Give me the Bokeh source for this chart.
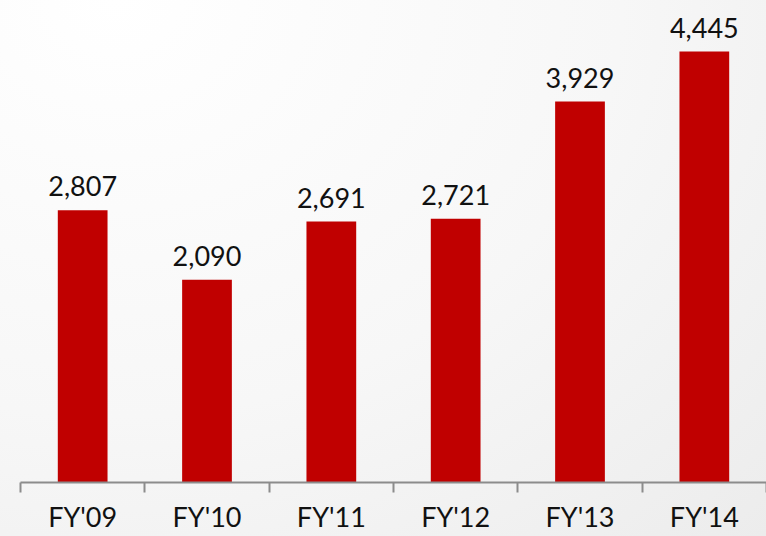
from bokeh.plotting import figure
from bokeh.models import ColumnDataSource, FixedTicker, Range1d, InlineStyleSheet, LabelSet
from bokeh.core.properties import value
from bokeh.embed import file_html
from bokeh.resources import INLINE

categories = ["FY'09", "FY'10", "FY'11", "FY'12", "FY'13", "FY'14"]
values = [2807, 2090, 2691, 2721, 3929, 4445]
value_labels = ["2,807", "2,090", "2,691", "2,721", "3,929", "4,445"]

xpos = [i + 0.5 for i in range(len(categories))]
src = ColumnDataSource(dict(x=xpos, top=values, lab=value_labels))

p = figure(width=766, height=536, output_backend="svg", toolbar_location=None,
           x_range=Range1d(0, len(categories)), y_range=Range1d(0, 4971),
           min_border_left=20, min_border_right=0, min_border_top=0, min_border_bottom=54)
p.border_fill_color = None
p.background_fill_color = None
p.outline_line_color = None
p.stylesheets = [InlineStyleSheet(css=":host { background: radial-gradient(ellipse at 15% 0%, #ffffff 0%, #f7f7f7 55%, #ececec 100%); }")]

p.vbar(x="x", top="top", width=0.4, source=src, color="#C00000", line_color=None)

labels = LabelSet(x="x", y="top", text="lab", source=src, text_align="center",
                  text_baseline="alphabetic", y_offset=14, text_font=value("Lato"),
                  text_font_size=value("27px"), text_color=value("#111111"))
p.add_layout(labels)

p.yaxis.visible = False
p.xgrid.visible = False
p.ygrid.visible = False

ax = p.xaxis[0]
ax.ticker = FixedTicker(ticks=xpos, minor_ticks=list(range(len(categories) + 1)))
ax.major_label_overrides = {x: c for x, c in zip(xpos, categories)}
ax.major_tick_out = 0
ax.major_tick_in = 0
ax.minor_tick_out = 10
ax.minor_tick_in = 0
ax.minor_tick_line_color = "#8c8c8c"
ax.minor_tick_line_width = 2
ax.axis_line_color = "#8c8c8c"
ax.axis_line_width = 2
ax.major_label_text_font = "Lato"
ax.major_label_text_font_size = "27px"
ax.major_label_text_color = "#111111"
ax.major_label_standoff = 7

open("out.html", "w").write(file_html(p, INLINE))
